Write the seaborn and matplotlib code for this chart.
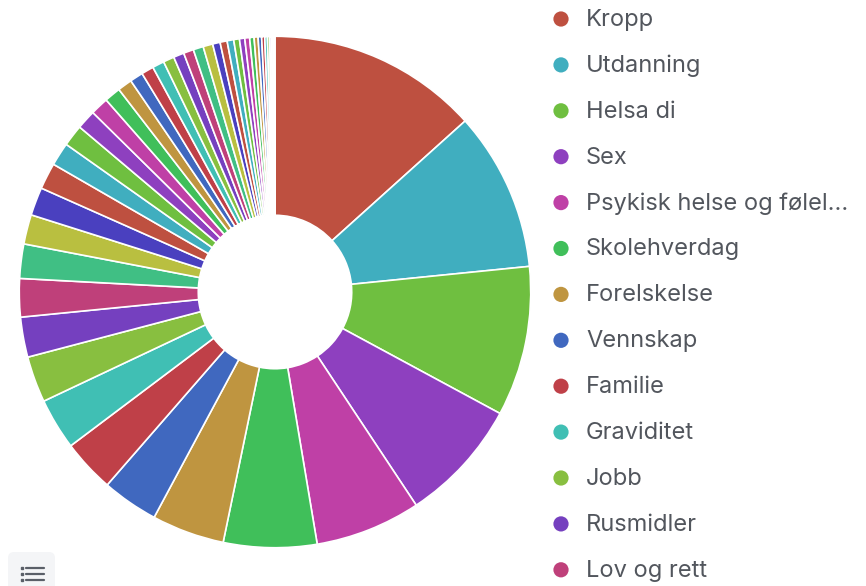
import numpy as np
import pandas as pd
import matplotlib
matplotlib.use("Agg")
import matplotlib.pyplot as plt
from matplotlib.patches import FancyBboxPatch
import seaborn as sns

sns.set_theme(style="white")
plt.rcParams['font.family'] = ['Inter', 'DejaVu Sans']

# categories shown in the legend (first 13) + the many small ones
top_labels = ["Kropp", "Utdanning", "Helsa di", "Sex", "Psykisk helse og følelser",
              "Skolehverdag", "Forelskelse", "Vennskap", "Familie", "Graviditet",
              "Jobb", "Rusmidler", "Lov og rett"]
top_values = [48.0, 36.2, 34.1, 28.1, 24.0, 21.2, 16.5, 12.8, 12.0, 11.7, 10.5, 9.1, 8.7]

other_values = [7.8, 6.7, 6.4, 6.0, 5.3, 4.9, 4.4, 4.1, 3.7, 3.3, 3.0, 2.8, 2.7, 2.5,
                2.4, 2.3, 2.3, 2.2, 1.7, 1.6, 1.5, 1.3, 1.2, 1.1, 1.0, 0.9, 0.8, 0.7,
                0.6, 0.5, 0.4, 0.3, 0.3, 0.2]
other_labels = [f"Kategori {i}" for i in range(14, 14 + len(other_values))]

df = pd.DataFrame({"kategori": top_labels + other_labels,
                   "antall": top_values + other_values})

base_colors = ["#BE5040", "#40AEBF", "#6FBF40", "#8E40BF", "#BF40A6", "#40BF5A",
               "#BF9540", "#4068BF", "#BF4048", "#40BFB4", "#88BF40", "#7540BF",
               "#BF407A", "#40BF84", "#B9BF40", "#4A40BF"]
pal = [base_colors[i % len(base_colors)] for i in range(len(df))]

fig = plt.figure(figsize=(8.66, 5.86), dpi=100)

# donut
cx, cy, r = 275, 292, 257
ax = fig.add_axes([(cx - r) / 866, (586 - cy - r) / 586, 2 * r / 866, 2 * r / 586])
ax.pie(df["antall"], colors=pal, startangle=90, counterclock=False,
       radius=1, wedgeprops=dict(width=0.7, edgecolor="white", linewidth=1.2))
ax.set_xlim(-1.005, 1.005)
ax.set_ylim(-1.005, 1.005)
ax.set_aspect("equal")
ax.axis("off")

# legend (only first 13 visible)
lax = fig.add_axes([0, 0, 1, 1], zorder=-1)
lax.set_xlim(0, 866)
lax.set_ylim(586, 0)
lax.axis("off")
for i, lab in enumerate(top_labels):
    y = 19 + 45.9 * i
    lax.scatter(561, y, s=120, color=pal[i], edgecolor="none")
    txt = lab if len(lab) <= 22 else lab[:22] + "..."
    lax.text(586, y + 1, txt, fontsize=17, color="#52565d", va="center", ha="left")

# list toggle button bottom-left
lax.add_patch(FancyBboxPatch((8, 552), 47, 40, boxstyle="round,pad=0,rounding_size=6",
                             facecolor="#f4f5f7", edgecolor="none"))
for k in range(3):
    yy = 568 + 6 * k
    lax.plot([21.5], [yy], marker="s", ms=2, color="#5a5f68")
    lax.plot([26, 44], [yy, yy], color="#5a5f68", lw=1.6, solid_capstyle="round")

fig.savefig("out.png", dpi=100)
